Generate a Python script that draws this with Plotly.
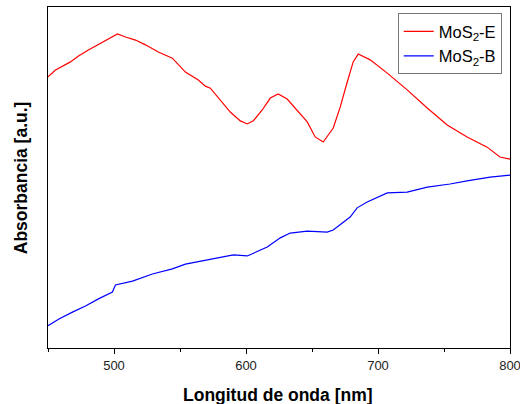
import plotly.graph_objects as go

# Wavelength (nm) and normalized absorbance
wl_e = [450, 455.7, 467.0, 473.1, 480.6, 488.2, 495.8, 502.6, 508.7, 516.3, 523.8,
        533.6, 544.2, 554.1, 563.9, 569.2, 573.0, 580.5, 588.1, 595.7, 601.0, 605.5,
        612.3, 618.4, 624.4, 631.2, 638.8, 646.4, 652.4, 658.5, 666.1, 671.4, 676.7,
        681.2, 685.0, 694.1, 707.0, 722.1, 737.3, 752.4, 767.5, 782.7, 792.4, 800]
abs_e = [0.795, 0.815, 0.839, 0.856, 0.874, 0.891, 0.906, 0.921, 0.912, 0.903, 0.889,
         0.868, 0.850, 0.809, 0.786, 0.768, 0.762, 0.727, 0.692, 0.666, 0.657, 0.666,
         0.698, 0.733, 0.745, 0.730, 0.698, 0.663, 0.619, 0.604, 0.645, 0.707, 0.780,
         0.839, 0.862, 0.845, 0.806, 0.757, 0.704, 0.654, 0.619, 0.589, 0.560, 0.554]

wl_b = [450, 458.3, 468.9, 478.4, 488.2, 498.8, 501.1, 514.0, 529.1, 544.2, 554.1,
        569.2, 580.5, 590.4, 601.0, 608.5, 616.1, 626.0, 633.5, 646.4, 661.5, 666.1,
        673.6, 678.9, 684.2, 691.8, 707.0, 722.1, 737.3, 754.6, 767.5, 784.9, 800]
abs_b = [0.065, 0.085, 0.106, 0.123, 0.144, 0.164, 0.185, 0.196, 0.217, 0.232, 0.246,
         0.258, 0.267, 0.273, 0.270, 0.282, 0.296, 0.323, 0.337, 0.343, 0.340, 0.346,
         0.367, 0.384, 0.411, 0.428, 0.455, 0.457, 0.472, 0.481, 0.490, 0.501, 0.507]

names = ["MoS<sub>2</sub>-E", "MoS<sub>2</sub>-B"]
colors = ["#ff0000", "#0000ff"]
x_title = "Longitud de onda [nm]"
y_title = "Absorbancia [a.u.]"

fig = go.Figure()
fig.add_trace(go.Scatter(x=wl_e, y=abs_e, mode="lines", name=names[0],
                         line=dict(color=colors[0], width=1.2), legendgroup="a"))
fig.add_trace(go.Scatter(x=wl_b, y=abs_b, mode="lines", name=names[1],
                         line=dict(color=colors[1], width=1.2), legendgroup="b"))

fig.update_layout(
    width=520, height=404,
    margin=dict(l=47.5, r=10, t=7, b=56),
    paper_bgcolor="white", plot_bgcolor="white",
    font=dict(family="Liberation Sans, Arial", color="black"),
    showlegend=True,
    legend=dict(x=0.757, y=0.982, xanchor="left", yanchor="top",
                bordercolor="#777777", borderwidth=1, bgcolor="white",
                font=dict(size=16.5, color="black"), tracegroupgap=0),
    xaxis=dict(range=[450, 800], dtick=100, tick0=0, showgrid=False, zeroline=False,
               automargin=False, ticklabeloverflow="allow",
               showline=True, linecolor="black", linewidth=1.2, mirror=True,
               ticks="outside", ticklen=5, tickcolor="black",
               minor=dict(dtick=50, tick0=0, ticks="outside", ticklen=3, tickcolor="black"),
               tickfont=dict(size=13, color="#222222")),
    yaxis=dict(range=[0, 1], showgrid=False, zeroline=False, showticklabels=False,
               automargin=False,
               showline=True, linecolor="black", linewidth=1.2, mirror=True, ticks=""),
    annotations=[
        dict(text="<b>" + x_title + "</b>", xref="paper", yref="paper",
             x=0.498, y=-0.138, xanchor="center", yanchor="middle",
             showarrow=False, font=dict(size=17.5, color="black")),
        dict(text="<b>" + y_title + "</b>", xref="paper", yref="paper",
             x=-0.059, y=0.50, xanchor="center", yanchor="middle", textangle=-90,
             showarrow=False, font=dict(size=17.5, color="black")),
    ],
)

fig.write_html("out.html", config={"displayModeBar": False},
               post_script="document.body.style.margin='0';")
